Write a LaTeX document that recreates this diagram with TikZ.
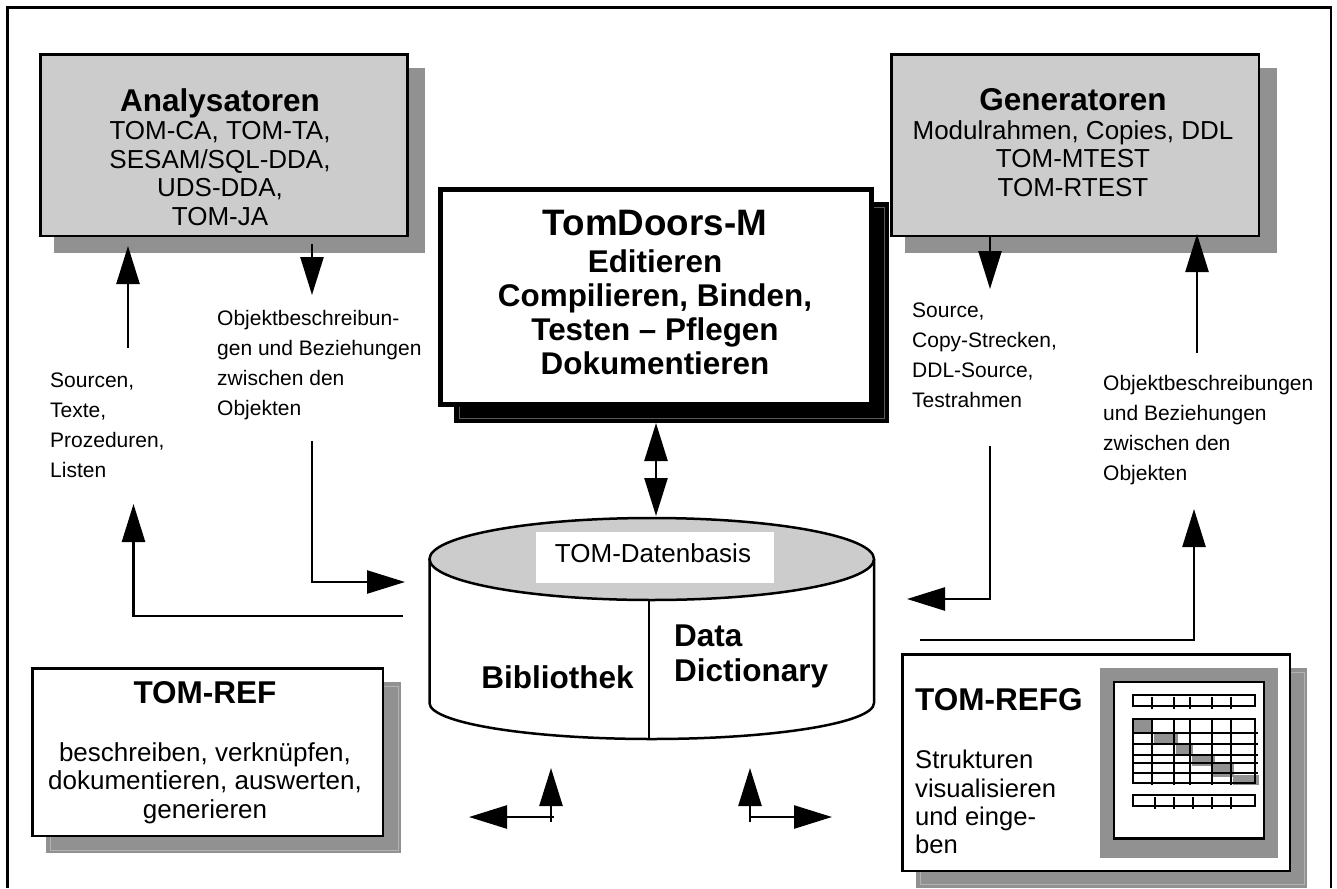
\documentclass[tikz,border=0pt]{standalone}
\usepackage{fontspec}
\setmainfont{Liberation Sans}
\usetikzlibrary{arrows.meta}
\definecolor{dropgray}{gray}{0.57}
\definecolor{lite}{gray}{0.8}
\tikzset{x=1pt,y=-1pt,
 frame/.style={draw=black,line width=2.6pt},
 panel/.style={draw=black,line width=2.6pt,fill=lite},
 tipstyle/.tip={Triangle[width=23pt,length=38pt]},
 conn/.style={line width=2.5pt,-tipstyle},
 txt/.style={align=center,inner sep=0pt,text=black},
 small/.style={align=left,anchor=north west,inner sep=0pt,font=\fontsize{21}{30}\selectfont},
 body/.style={font=\fontsize{26}{28.6}\selectfont},
 grid/.style={line width=2pt},
}
\newcommand{\titlefont}{\fontsize{31.5}{33}\selectfont\bfseries}
\begin{document}
\begin{tikzpicture}
\useasboundingbox (0,0) rectangle (1337,888);
\fill[white] (0,0) rectangle (1337,888);
\draw[line width=2.6pt] (7.5,888) -- (7.5,7.5) -- (1331,7.5) -- (1331,888);
% shadows
\fill[dropgray] (54,68) rectangle (425,253);
\fill[dropgray] (905,68) rectangle (1277,253);
\fill[dropgray] (46,682) rectangle (401,853);
\draw[gray!60!white,line width=.7pt] (50,686) rectangle (398,850);
\fill[dropgray] (916,668) rectangle (1307,888);
\draw[gray!60!white,line width=.7pt] (920,672) rectangle (1304,884);
\fill[black] (454,202) rectangle (889,423);
\draw[gray!70!black,line width=.6pt] (459,207) rectangle (884,418);
% boxes
\draw[panel] (40.3,54.3) rectangle (407.5,236);
\draw[panel] (891.3,54.3) rectangle (1259,236);
\draw[frame,line width=5pt,fill=white] (440.5,189.5) rectangle (871.5,404.5);
\draw[frame,fill=white] (32.3,668.3) rectangle (383,836);
\draw[frame,fill=white] (902.3,654.3) rectangle (1290,871);
% box texts
\node[txt,body] (anatext) at (220,157) {{\titlefont Analysatoren}\\TOM-CA, TOM-TA,\\SESAM/SQL-DDA,\\UDS-DDA,\\TOM-JA};
\node[txt,body] (gentext) at (1073,142.5) {{\titlefont Generatoren}\\Modulrahmen, Copies, DDL\\TOM-MTEST\\TOM-RTEST};
\node[txt,font=\fontsize{31.4}{34}\selectfont\bfseries] (tomd) at (655,292.5) {{\fontsize{36.8}{40}\selectfont TomDoors-M}\\[3pt]Editieren\\Compilieren, Binden,\\Testen -- Pflegen\\Dokumentieren};
\node[txt,font=\titlefont] (ref) at (205,693) {TOM-REF};
\node[txt,body] (reft) at (205,783) {beschreiben, verknüpfen,\\dokumentieren, auswerten,\\generieren};
\node[txt,anchor=north west,font=\titlefont] (refg) at (915,688) {TOM-REFG};
\node[txt,anchor=north west,align=left,font=\fontsize{25.6}{28.4}\selectfont] (refgt) at (915,750) {Strukturen\\visualisieren\\und einge-\\ben};
% cylinder
\draw[line width=2.5pt,fill=white] (429.5,559) -- (429.5,703) arc[start angle=180,end angle=360,x radius=222.25,y radius=-36] -- (874,559);
\draw[line width=2.5pt,fill=lite] (651.75,559) ellipse[x radius=222.25,y radius=41];
\draw[line width=2pt] (649,600) -- (649,739);
\fill[white] (536,532) rectangle (774,583);
\node[txt,font=\fontsize{26}{30}\selectfont] (db) at (653,553) {TOM-Datenbasis};
\node[txt,font=\titlefont] (bib) at (557.5,677) {Bibliothek};
\node[txt,anchor=north west,align=left,font=\fontsize{31.5}{35}\selectfont\bfseries] (dd) at (674,624.5) {Data\\Dictionary};
% small labels
\node[small] (l1) at (50,373) {Sourcen,\\Texte,\\Prozeduren,\\Listen};
\node[small] (l2) at (217,310.5) {Objektbeschreibun-\\gen und Beziehungen\\zwischen den\\Objekten};
\node[small] (l3) at (912,303) {Source,\\Copy-Strecken,\\DDL-Source,\\Testrahmen};
\node[small] (l4) at (1103,375) {Objektbeschreibungen\\und Beziehungen\\zwischen den\\Objekten};
% connectors
\coordinate (a1s) at (128,348); \coordinate (a1e) at (128,246);
\draw[conn] (a1s) -- (a1e);
\coordinate (a2s) at (312,244); \coordinate (a2e) at (312,295);
\draw[conn] (a2s) -- (a2e);
\coordinate (a3s) at (990,237); \coordinate (a3e) at (990,289);
\draw[conn] (a3s) -- (a3e);
\coordinate (a4s) at (1197,353); \coordinate (a4e) at (1197,234);
\draw[conn] (a4s) -- (a4e);
\coordinate (a5s) at (312,441); \coordinate (a5m) at (312,582); \coordinate (a5e) at (405,582);
\draw[conn] (a5s) -- (a5m) -- (a5e);
\coordinate (a6s) at (403,616); \coordinate (a6m) at (133.5,616); \coordinate (a6e) at (133.5,504);
\draw[conn] (a6s) -- (a6m) -- (a6e);
\coordinate (a7s) at (990,446); \coordinate (a7m) at (990,599); \coordinate (a7e) at (907,599);
\draw[conn] (a7s) -- (a7m) -- (a7e);
\coordinate (a8s) at (920,640); \coordinate (a8m) at (1194,640); \coordinate (a8e) at (1194,509);
\draw[conn] (a8s) -- (a8m) -- (a8e);
\coordinate (b1) at (554,817); \coordinate (b1e) at (469,817);
\draw[conn] (b1) -- (b1e);
\coordinate (b2) at (551,822); \coordinate (b2e) at (551,768);
\draw[conn] (b2) -- (b2e);
\coordinate (b3) at (750,817); \coordinate (b3e) at (832,817);
\draw[conn] (b3) -- (b3e);
\coordinate (b4) at (750,822); \coordinate (b4e) at (750,768);
\draw[conn] (b4) -- (b4e);
\coordinate (d1) at (656,423); \coordinate (d2) at (656,516);
\draw[line width=2.5pt,tipstyle-tipstyle] (d1) -- (d2);
% miniature chart
\fill[dropgray] (1100,668) rectangle (1278,858);
\draw[frame,fill=white] (1114,682) rectangle (1264,838.5);
\fill[dropgray] (1134,720) rectangle (1152,733);
\fill[dropgray] (1154,734) rectangle (1178,744);
\fill[dropgray] (1176,745) rectangle (1193,755);
\fill[dropgray] (1192,755) rectangle (1215,766);
\fill[dropgray] (1213,763) rectangle (1234,777);
\fill[dropgray] (1233,775) rectangle (1259,785);
\draw[grid] (1133,695) rectangle (1255,706);
\draw[grid] (1133,719) rectangle (1255,783);
\draw[grid] (1133,795) rectangle (1255,806);
\foreach \x in {1152,1174,1190,1212,1231} {\draw[grid] (\x,697) -- (\x,709); \draw[grid] (\x,719) -- (\x,785);}
\foreach \x in {1155,1174,1193,1212,1231} {\draw[grid] (\x,797) -- (\x,809);}
\foreach \y in {733,744,755,763,773} {\draw[grid] (1133,\y) -- (1258,\y);}
\end{tikzpicture}
\end{document}
